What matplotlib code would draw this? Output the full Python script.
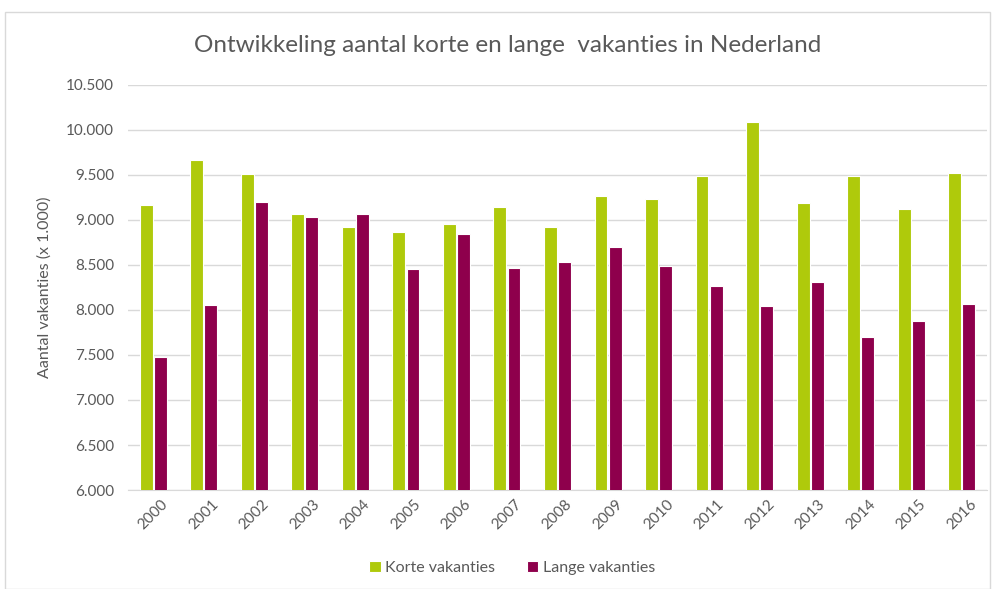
import matplotlib
matplotlib.use("Agg")
import matplotlib.pyplot as plt
import numpy as np
from matplotlib.patches import Rectangle
from matplotlib.ticker import FuncFormatter

years = [str(y) for y in range(2000, 2017)]
korte = [9160, 9665, 9512, 9068, 8916, 8861, 8953, 9142, 8916, 9264, 9235, 9483, 10090, 9183, 9483, 9120, 9523]
lange = [7480, 8058, 9201, 9027, 9068, 8450, 8842, 8461, 8535, 8698, 8483, 8265, 8039, 8306, 7699, 7876, 8069]
yticks = [6000, 6500, 7000, 7500, 8000, 8500, 9000, 9500, 10000, 10500]

plt.rcParams['font.family'] = ['Lato', 'DejaVu Sans']

fig = plt.figure(figsize=(9.95, 5.89), dpi=100)
ax = fig.add_axes([0.1286, 0.168, 0.992 - 0.1286, 0.8562 - 0.168])

x = np.arange(len(years))
w = 0.255
green = '#afca0b'
purple = '#8e004c'
ax.bar(x - 0.14, korte, width=w, color=green, edgecolor='white', linewidth=0.8, label='Korte vakanties', zorder=3)
ax.bar(x + 0.14, lange, width=w, color=purple, edgecolor='white', linewidth=0.8, label='Lange vakanties', zorder=3)

ax.set_xlim(-0.5, len(years) - 0.5)
ax.set_ylim(6000, 10500)
ax.set_yticks(yticks)
ax.yaxis.set_major_formatter(FuncFormatter(lambda v, p: f"{int(v):,}".replace(",", ".")))
ax.set_xticks(x)
ax.set_xticklabels(years, rotation=45, ha='center', rotation_mode='default')
ax.tick_params(axis='both', length=0, labelsize=11, colors='#595959')
ax.tick_params(axis='y', pad=10)
ax.tick_params(axis='x', pad=5)
ax.grid(axis='y', color='#d9d9d9', linewidth=1, zorder=0)
for s in ['top', 'right', 'left']:
    ax.spines[s].set_visible(False)
ax.spines['bottom'].set_color('#d9d9d9')
ax.set_ylabel('Aantal vakanties (x 1.000)', fontsize=11.5, color='#595959', labelpad=10)

fig.text(0.51, 0.922, 'Ontwikkeling aantal korte en lange  vakanties in Nederland',
         ha='center', va='center', fontsize=17.5, color='#595959')

leg = fig.legend(loc='center', bbox_to_anchor=(0.515, 0.036), ncol=2, frameon=False,
                 fontsize=11.5, handlelength=0.7, handleheight=0.7, columnspacing=2.0,
                 handletextpad=0.3, labelcolor='#595959')

fig.patches.append(Rectangle((0.005, 0.0), 0.99, 0.98, transform=fig.transFigure,
                             fill=False, edgecolor='#d9d9d9', linewidth=1))

fig.savefig('out.png', dpi=100)
